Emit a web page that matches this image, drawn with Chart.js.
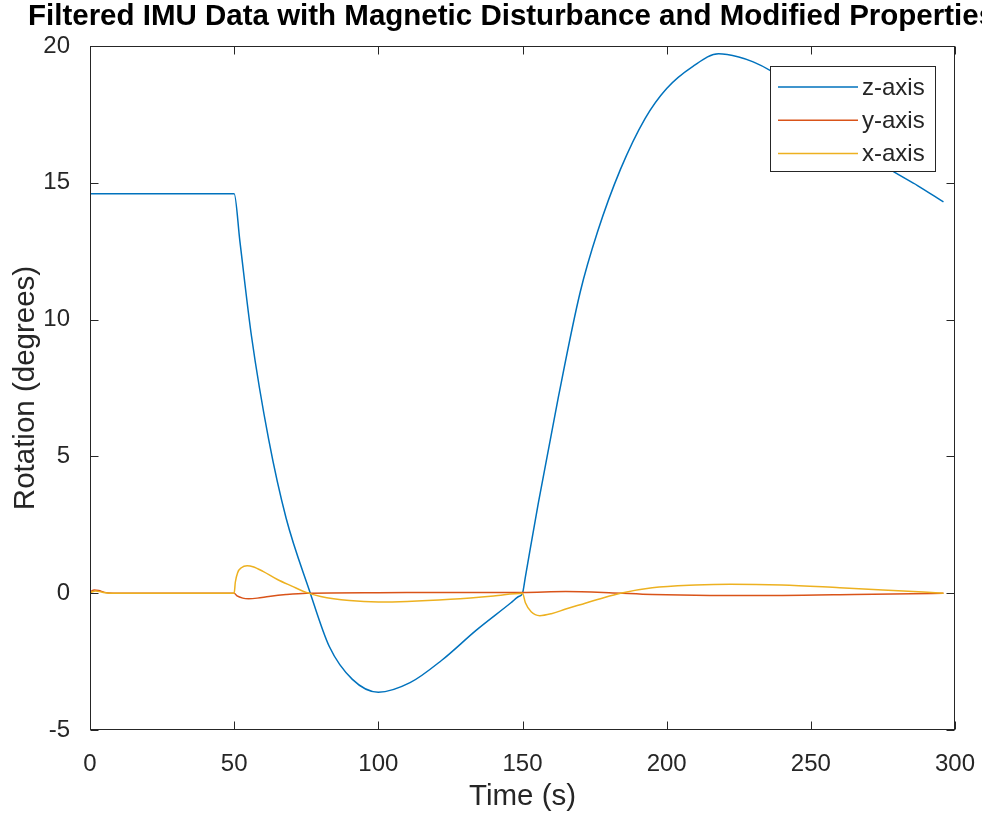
<!DOCTYPE html>
<html>
<head>
<meta charset="utf-8">
<title>Filtered IMU Data</title>
<script src="https://cdn.jsdelivr.net/npm/chart.js@4.4.0/dist/chart.umd.min.js"></script>
<style>
  html, body { margin: 0; padding: 0; background: #fff; }
  #wrap { width: 982px; height: 815px; }
</style>
</head>
<body>
<div id="wrap"><canvas id="imu" width="982" height="815"></canvas></div>
<script>
// values (time in s, rotation in degrees)
const zTime = [0, 50, 52, 56, 62, 68, 76, 83, 91, 100, 111, 122, 134, 146, 148.5, 150, 151, 155.5, 162.5, 170, 176, 184, 192.5, 200, 209, 218, 225, 230, 236, 240, 250, 260, 270, 278, 287, 296]
const zRot = [14.6, 14.6, 12.85, 9.4, 5.6, 2.75, 0.13, -1.95, -3.15, -3.62, -3.27, -2.45, -1.35, -0.35, -0.13, 0, 0.6, 3.3, 7.2, 11.0, 13.2, 15.5, 17.35, 18.45, 19.25, 19.72, 19.6, 19.42, 19.1, 18.8, 17.9, 16.9, 16.05, 15.45, 14.9, 14.3]

const yTime = [0, 1.5, 3, 5, 8, 50, 51, 53, 55, 58, 62, 68, 75, 100, 135, 150, 165, 180, 195, 215, 240, 265, 285, 296]
const yRot = [0.04, 0.12, 0.1, 0.03, 0, 0, -0.1, -0.18, -0.2, -0.18, -0.12, -0.05, 0, 0.02, 0.03, 0.03, 0.06, 0.02, -0.05, -0.08, -0.08, -0.05, -0.02, 0]

const xTime = [0, 2, 4, 7, 50, 50.4, 51.2, 52.5, 54.5, 56.5, 60, 65, 70, 75, 80, 90, 100, 110, 125, 140, 150, 151, 153, 156, 160, 165, 170, 177, 184, 195, 210, 222, 240, 260, 275, 296]
const xRot = [0.02, 0.08, 0.04, 0, 0, 0.4, 0.75, 0.93, 1.0, 0.97, 0.8, 0.5, 0.26, 0.03, -0.12, -0.27, -0.32, -0.3, -0.22, -0.1, 0, -0.35, -0.68, -0.82, -0.75, -0.58, -0.42, -0.2, 0, 0.2, 0.3, 0.33, 0.3, 0.2, 0.12, 0]

const seriesNames = ["z-axis", "y-axis", "x-axis"]
const seriesColors = ["rgb(0,114,189)", "rgb(217,83,25)", "rgb(237,177,32)"]

const axisColor = "rgb(38,38,38)"
const fontFamily = "'Liberation Sans', Arial, Helvetica, sans-serif"

const toPoints = (times, values) => times.map((t, i) => ({x: t, y: values[i]}))

// MATLAB style box with inward ticks on all four sides
const framePlugin = {
    id: "frame",
    afterDatasetsDraw(chart){
        const {ctx, chartArea: a, scales} = chart
        const tickLen = 8
        const L = Math.round(a.left) + 0.5, R = Math.round(a.right) - 0.5
        const T = Math.round(a.top) + 0.5, B = Math.round(a.bottom) - 0.5
        ctx.save()
        ctx.strokeStyle = axisColor
        ctx.lineWidth = 1
        ctx.beginPath()
        scales.x.ticks.forEach(tk => {
            const px = Math.round(scales.x.getPixelForValue(tk.value)) + 0.5
            ctx.moveTo(px, B); ctx.lineTo(px, B - tickLen)
            ctx.moveTo(px, T); ctx.lineTo(px, T + tickLen)
        })
        scales.y.ticks.forEach(tk => {
            const py = Math.round(scales.y.getPixelForValue(tk.value)) + 0.5
            ctx.moveTo(L, py); ctx.lineTo(L + tickLen, py)
            ctx.moveTo(R, py); ctx.lineTo(R - tickLen, py)
        })
        ctx.stroke()
        ctx.strokeRect(L, T, R - L, B - T)
        ctx.restore()
    }
}

const legendPlugin = {
    id: "boxLegend",
    afterDatasetsDraw(chart){
        const ctx = chart.ctx
        const box = {left: 770.5, top: 66.5, width: 165, height: 105}
        ctx.save()
        ctx.fillStyle = "#fff"
        ctx.fillRect(box.left, box.top, box.width, box.height)
        ctx.strokeStyle = axisColor
        ctx.lineWidth = 1
        ctx.strokeRect(box.left, box.top, box.width, box.height)
        ctx.font = `24px ${fontFamily}`
        ctx.textBaseline = "middle"
        ctx.textAlign = "left"
        chart.data.datasets.forEach((ds, i) => {
            const rowY = 87 + i * 33.3
            ctx.strokeStyle = ds.borderColor
            ctx.lineWidth = 1.5
            ctx.beginPath()
            ctx.moveTo(778, rowY)
            ctx.lineTo(858, rowY)
            ctx.stroke()
            ctx.fillStyle = axisColor
            ctx.fillText(ds.label, 862, rowY + 1)
        })
        ctx.restore()
    }
}

const titlePlugin = {
    id: "cutTitle",
    afterDraw(chart){
        const ctx = chart.ctx
        ctx.save()
        ctx.font = `bold 29.5px ${fontFamily}`
        ctx.fillStyle = "#000"
        ctx.textAlign = "left"
        ctx.textBaseline = "middle"
        ctx.fillText("Filtered IMU Data with Magnetic Disturbance and Modified Properties", 28, 17)
        ctx.restore()
    }
}

const ctx = document.getElementById("imu").getContext("2d")
const imuChart = new Chart(ctx, {
    type: "line",
    data: {
        datasets: [
            {label: seriesNames[0], data: toPoints(zTime, zRot), borderColor: seriesColors[0], order: 3},
            {label: seriesNames[1], data: toPoints(yTime, yRot), borderColor: seriesColors[1], order: 2},
            {label: seriesNames[2], data: toPoints(xTime, xRot), borderColor: seriesColors[2], order: 1}
        ]
    },
    options: {
        responsive: false,
        animation: false,
        devicePixelRatio: 1,
        layout: {padding: {top: 46, right: 27, left: 0, bottom: 0}},
        elements: {
            line: {borderWidth: 1.5, cubicInterpolationMode: "monotone", fill: false},
            point: {radius: 0, hoverRadius: 0}
        },
        plugins: {legend: {display: false}, tooltip: {enabled: false}, title: {display: false}},
        scales: {
            x: {
                type: "linear", min: 0, max: 300,
                ticks: {stepSize: 50, color: axisColor, padding: 12, maxRotation: 0, font: {family: fontFamily, size: 24}},
                grid: {display: false},
                border: {display: false},
                title: {display: true, text: "Time (s)", color: axisColor, padding: {top: 0, bottom: 0}, font: {family: fontFamily, size: 29.5}},
                afterFit: s => { s.height = 85; s.paddingLeft = 0; s.paddingRight = 0 }
            },
            y: {
                type: "linear", min: -5, max: 20,
                ticks: {stepSize: 5, color: axisColor, padding: 12, font: {family: fontFamily, size: 24}},
                grid: {display: false},
                border: {display: false},
                title: {display: true, text: "Rotation (degrees)", color: axisColor, padding: {top: 8, bottom: 0}, font: {family: fontFamily, size: 29.5}},
                afterFit: s => { s.width = 90; s.paddingTop = 0; s.paddingBottom = 0 }
            }
        }
    },
    plugins: [framePlugin, legendPlugin, titlePlugin]
})
</script>
</body>
</html>
